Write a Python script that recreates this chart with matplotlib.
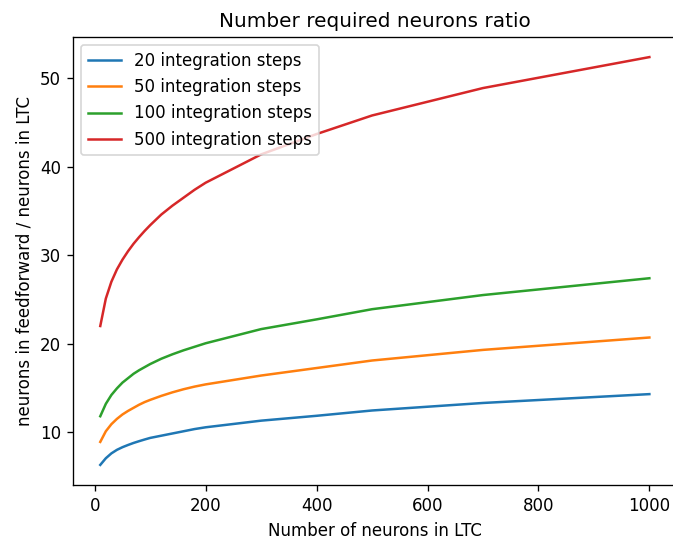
import matplotlib
matplotlib.use('Agg')
import matplotlib.pyplot as plt

# number of neurons in LTC
n_ltc = [10, 20, 30, 40, 50, 60, 70, 80, 90, 100, 120, 140, 160, 180, 200, 300, 400, 500, 700, 1000]

# ratio feedforward / LTC for each number of integration steps
ratio_20 = [6.3, 7.05, 7.6, 8.0, 8.3, 8.55, 8.78, 8.98, 9.17, 9.35,
            9.6, 9.85, 10.1, 10.35, 10.55, 11.3, 11.85, 12.45, 13.3, 14.3]
ratio_50 = [8.9, 10.1, 10.9, 11.5, 12.0, 12.4, 12.75, 13.1, 13.4, 13.65,
            14.1, 14.5, 14.85, 15.15, 15.4, 16.4, 17.25, 18.1, 19.3, 20.7]
ratio_100 = [11.8, 13.2, 14.2, 14.95, 15.6, 16.1, 16.6, 17.0, 17.35, 17.7,
             18.3, 18.8, 19.25, 19.65, 20.05, 21.65, 22.75, 23.9, 25.5, 27.4]
ratio_500 = [22.0, 25.1, 27.0, 28.4, 29.5, 30.45, 31.3, 32.05, 32.75, 33.4,
             34.6, 35.6, 36.5, 37.4, 38.2, 41.4, 43.7, 45.8, 48.9, 52.4]

labels = ['20 integration steps', '50 integration steps',
          '100 integration steps', '500 integration steps']

fig = plt.figure(figsize=(673 / 120, 543 / 120), dpi=120)
ax = fig.add_axes([0.1082, 0.1063, 0.8975, 0.8261])

ax.plot(n_ltc, ratio_20, label=labels[0])
ax.plot(n_ltc, ratio_50, label=labels[1])
ax.plot(n_ltc, ratio_100, label=labels[2])
ax.plot(n_ltc, ratio_500, label=labels[3])

ax.set_title('Number required neurons ratio')
ax.set_xlabel('Number of neurons in LTC')
ax.set_ylabel('neurons in feedforward / neurons in LTC')
ax.legend(loc='upper left')

fig.savefig('out.png', dpi=120)
